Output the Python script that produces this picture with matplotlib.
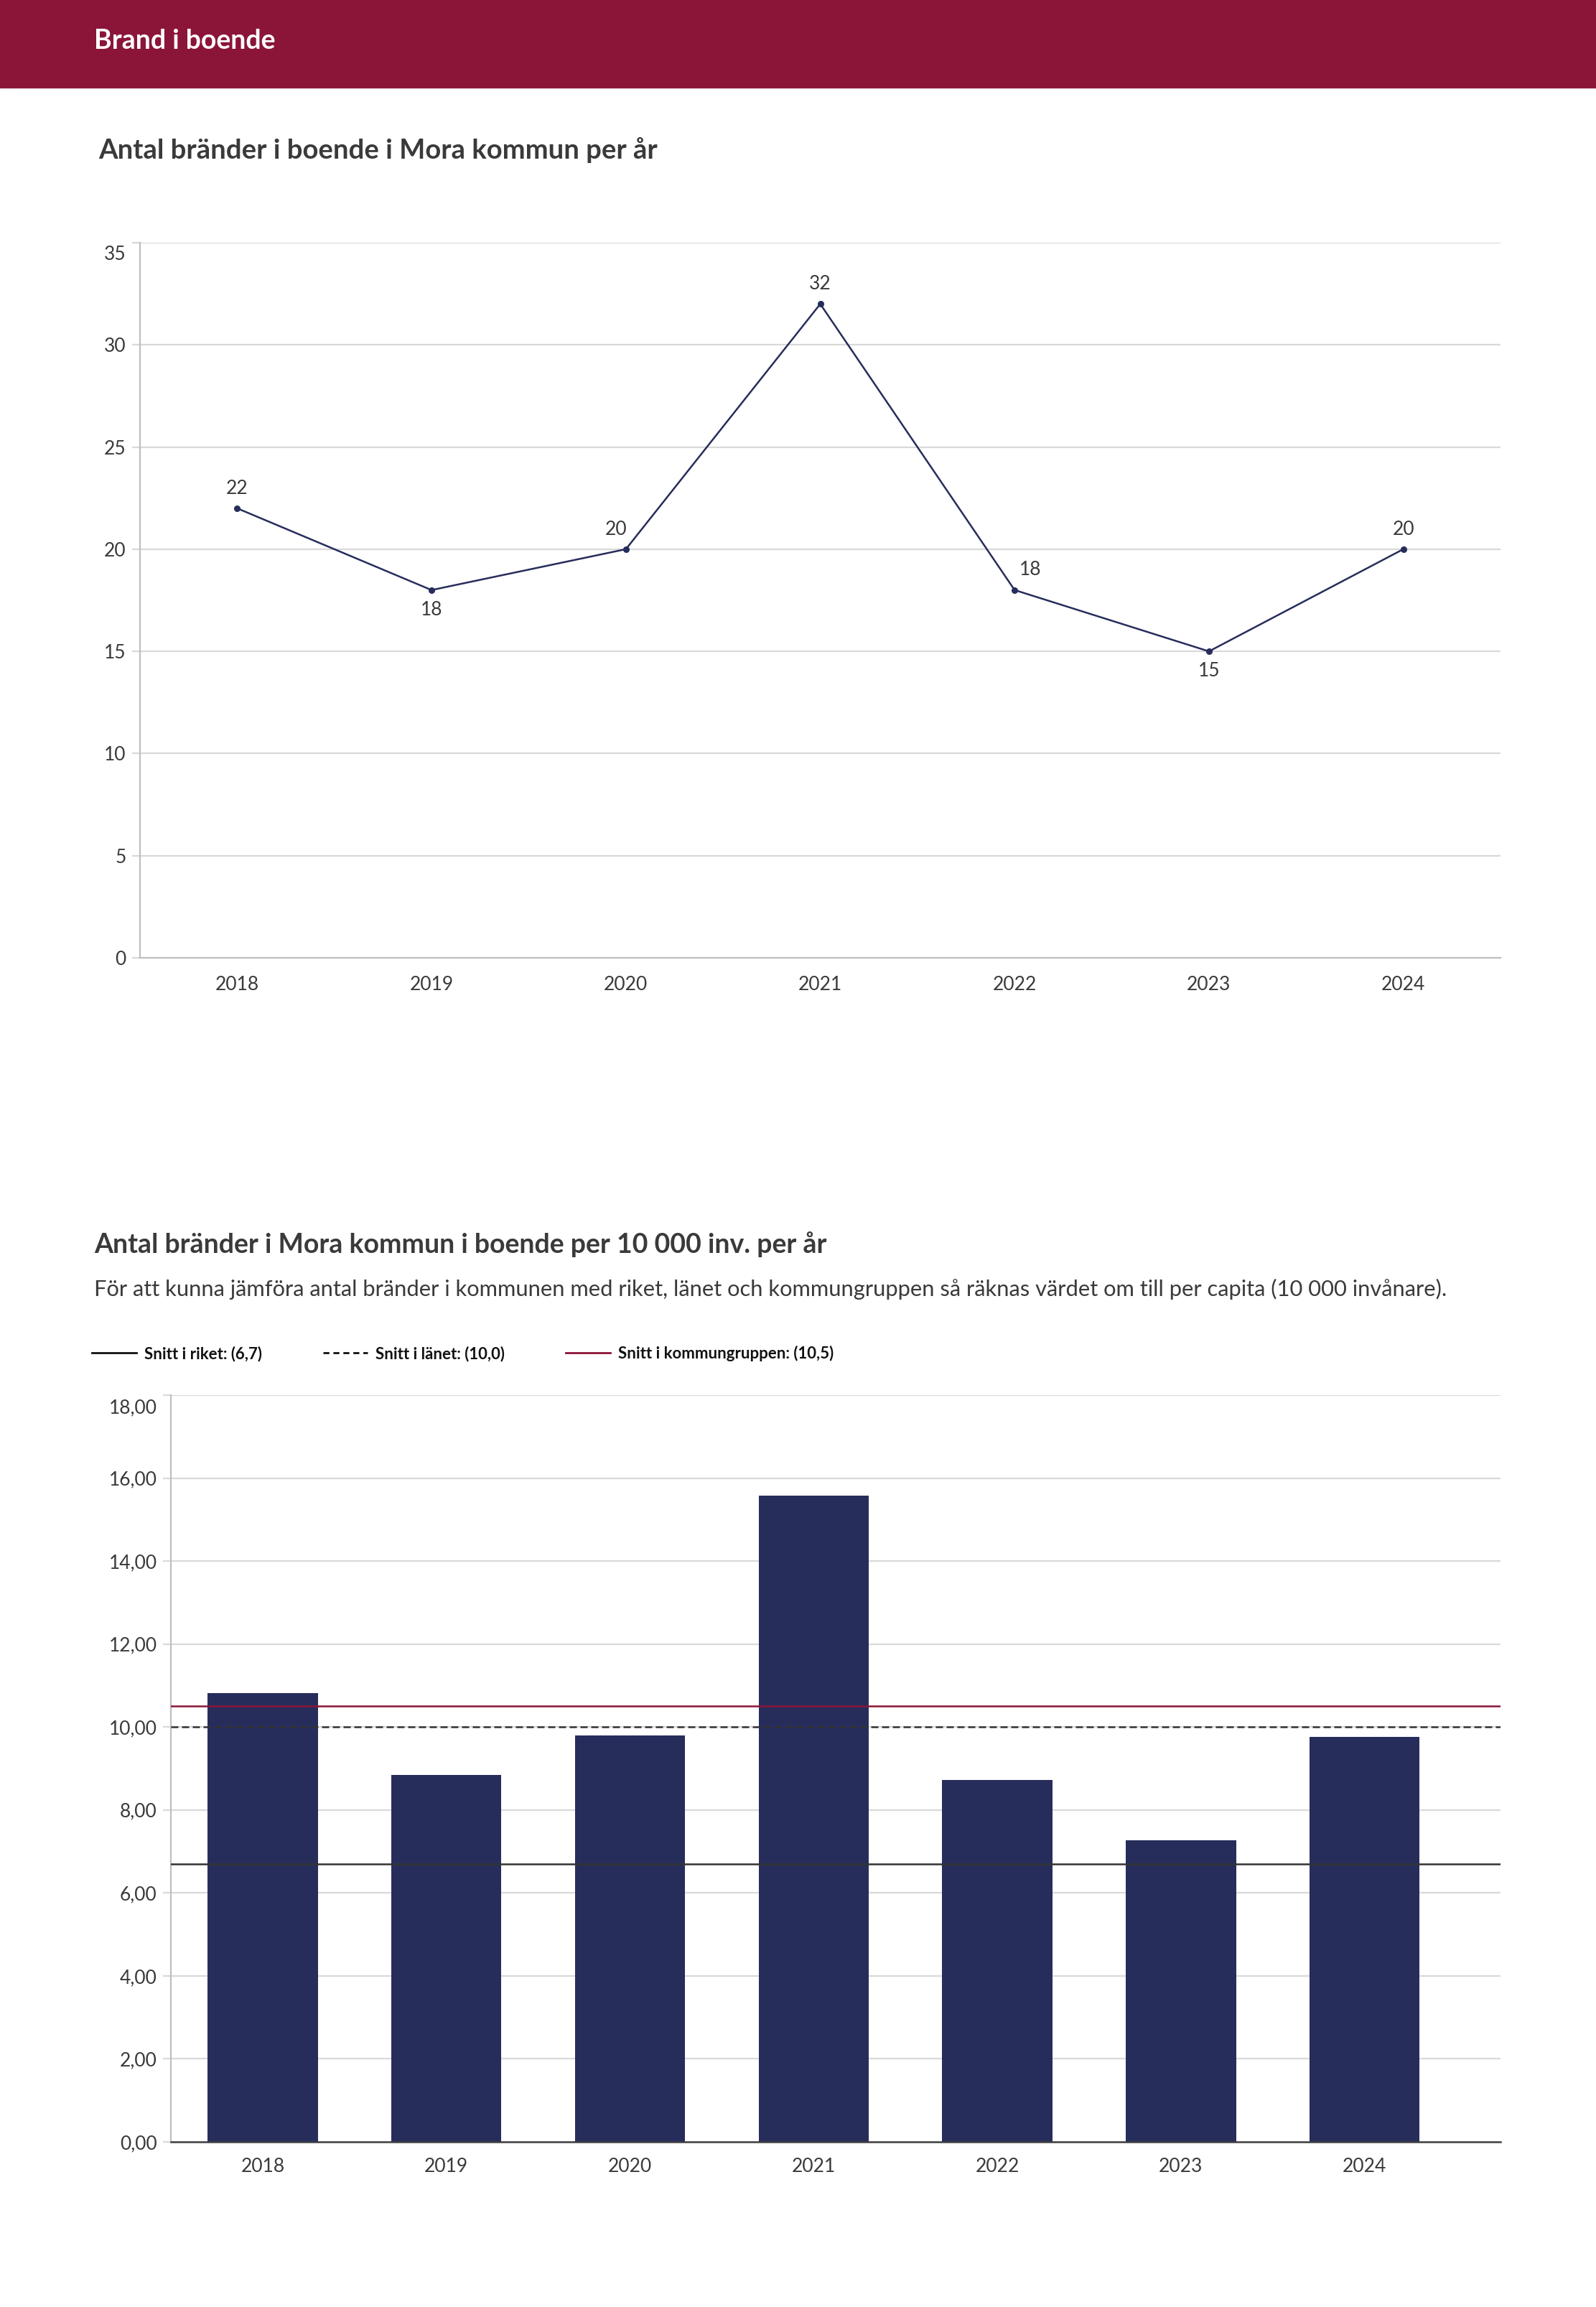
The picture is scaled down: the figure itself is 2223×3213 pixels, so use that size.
import matplotlib.pyplot as plt
import matplotlib.transforms as mtransforms
from matplotlib.lines import Line2D
import numpy as np

plt.rcParams['font.family'] = ['Lato', 'DejaVu Sans']

W, H = 2223, 3213
DPI = 100

years = ['2018', '2019', '2020', '2021', '2022', '2023', '2024']
antal = [22, 18, 20, 32, 18, 15, 20]
per_10000 = [10.81, 8.84, 9.80, 15.58, 8.72, 7.27, 9.76]
snitt_riket = 6.7
snitt_lanet = 10.0
snitt_kommungrupp = 10.5

RED = '#8b1538'
NAVY = '#272d5b'
TXT = '#3a3a3a'
GRID = '#d9d9d9'


def px_axes(fig, left, top, right, bottom):
    return fig.add_axes([left / W, 1 - bottom / H, (right - left) / W, (bottom - top) / H])


def shift_top_label(ax, fig, dy_pt):
    # the top tick label sits a bit below its gridline, like the original
    off = mtransforms.ScaledTranslation(0, -dy_pt / 72, fig.dpi_scale_trans)
    lab = ax.get_yticklabels()[-1]
    lab.set_transform(lab.get_transform() + off)


fig = plt.figure(figsize=(W / DPI, H / DPI), dpi=DPI)

# header band
fig.patches.append(plt.Rectangle((0, 1 - 122 / H), 1, 122 / H, transform=fig.transFigure,
                                 color=RED, zorder=0))
fig.text(131 / W, 1 - 57 / H, 'Brand i boende', color='white', fontsize=27,
         fontweight='bold', va='center', ha='left')

# ---- chart 1: line
fig.text(137 / W, 1 - 209 / H, 'Antal bränder i boende i Mora kommun per år', color=TXT,
         fontsize=27.5, fontweight='bold', va='center', ha='left')

ax1 = px_axes(fig, 195, 338, 2090, 1334)
x = np.arange(len(years)) + 0.5
ax1.plot(x, antal, color=NAVY, lw=1.8, marker='o', ms=5.5, zorder=3)
ax1.set_xlim(0, len(years))
ax1.set_ylim(0, 35)
ax1.set_yticks(range(0, 36, 5))
ax1.set_xticks(x)
ax1.set_xticklabels(years)
ax1.grid(axis='y', color=GRID, lw=1.6)
ax1.set_axisbelow(True)
for s in ['top', 'right']:
    ax1.spines[s].set_visible(False)
for s in ['left', 'bottom']:
    ax1.spines[s].set_color('#bfbfbf')
    ax1.spines[s].set_linewidth(1.6)
ax1.tick_params(axis='y', length=8, color=GRID, width=1.6, labelsize=19, labelcolor=TXT, pad=6)
ax1.tick_params(axis='x', length=0, labelsize=19, labelcolor=TXT, pad=18)
shift_top_label(ax1, fig, 10)

offsets = [(0, 11), (0, -11), (-10, 11), (0, 11), (16, 11), (0, -11), (0, 11)]
for xi, v, (dx, dy) in zip(x, antal, offsets):
    ax1.annotate(str(v), (xi, v), xytext=(dx, dy), textcoords='offset points',
                 ha='center', va='bottom' if dy > 0 else 'top', fontsize=19, color=TXT)

# ---- chart 2: bars
fig.text(131 / W, 1 - 1733 / H, 'Antal bränder i Mora kommun i boende per 10 000 inv. per år',
         color=TXT, fontsize=27, fontweight='bold', va='center', ha='left')
fig.text(131 / W, 1 - 1795 / H,
         'För att kunna jämföra antal bränder i kommunen med riket, länet och kommungruppen '
         'så räknas värdet om till per capita (10 000 invånare).',
         color=TXT, fontsize=22.2, va='center', ha='left')

ax2 = px_axes(fig, 238, 1943, 2090, 2983)
ax2.bar(x, per_10000, width=0.6, color=NAVY, zorder=2)
ax2.axhline(snitt_riket, color='#333333', lw=1.8, zorder=3)
ax2.axhline(snitt_lanet, color='#333333', lw=1.8, ls=(0, (4, 2)), zorder=3)
ax2.axhline(snitt_kommungrupp, color=RED, lw=1.8, zorder=3)
ax2.set_xlim(0, 7.24)
ax2.set_ylim(0, 18)
ax2.set_yticks(np.arange(0, 19, 2))
ax2.set_yticklabels([f'{v:.2f}'.replace('.', ',') for v in np.arange(0, 19, 2)])
ax2.set_xticks(x)
ax2.set_xticklabels(years)
ax2.grid(axis='y', color=GRID, lw=1.6)
ax2.set_axisbelow(True)
for s in ['top', 'right']:
    ax2.spines[s].set_visible(False)
ax2.spines['left'].set_color('#bfbfbf')
ax2.spines['left'].set_linewidth(1.6)
ax2.spines['bottom'].set_color('#404040')
ax2.spines['bottom'].set_linewidth(1.8)
ax2.tick_params(axis='y', length=8, color=GRID, width=1.6, labelsize=19, labelcolor=TXT, pad=6)
ax2.tick_params(axis='x', length=0, labelsize=19, labelcolor=TXT, pad=16)
shift_top_label(ax2, fig, 11)

handles = [
    Line2D([], [], color='#111111', lw=2),
    Line2D([], [], color='#111111', lw=2, ls=(0, (3, 2))),
    Line2D([], [], color=RED, lw=2),
]
labels = [f'Snitt i riket: ({snitt_riket:.1f})'.replace('.', ','),
          f'Snitt i länet: ({snitt_lanet:.1f})'.replace('.', ','),
          f'Snitt i kommungruppen: ({snitt_kommungrupp:.1f})'.replace('.', ',')]
leg = fig.legend(handles, labels, loc='center left', bbox_to_anchor=(108 / W, 1 - 1885 / H),
                 ncol=3, frameon=False, handlelength=2.8, handletextpad=0.5,
                 columnspacing=3.8, prop={'weight': 'bold', 'size': 16})
for t in leg.get_texts():
    t.set_color('#111111')

fig.savefig('out.png', dpi=DPI, facecolor='white')
